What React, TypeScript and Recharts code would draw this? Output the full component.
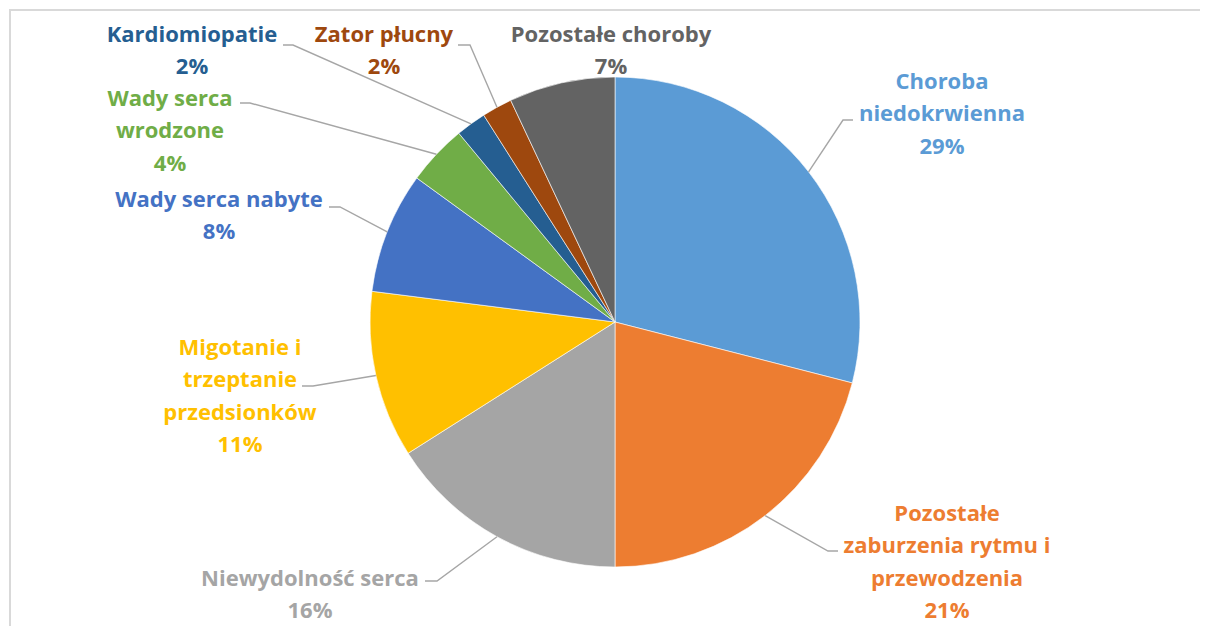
import { PieChart, Pie, Cell } from "recharts";

// dane z wykresu
const CATEGORIES = [
  "Choroba niedokrwienna",
  "Pozostałe zaburzenia rytmu i przewodzenia",
  "Niewydolność serca",
  "Migotanie i trzeptanie przedsionków",
  "Wady serca nabyte",
  "Wady serca wrodzone",
  "Kardiomiopatie",
  "Zator płucny",
  "Pozostałe choroby",
];
const VALUES = [29, 21, 16, 11, 8, 4, 2, 2, 7];
const COLORS = [
  "#5B9BD5", "#ED7D31", "#A5A5A5", "#FFC000", "#4472C4",
  "#70AD47", "#255E91", "#9E480E", "#636363",
];

// łamanie linii etykiet, jak w Excelu
const LABEL_LINES = [
  ["Choroba", "niedokrwienna"],
  ["Pozostałe", "zaburzenia rytmu i", "przewodzenia"],
  ["Niewydolność serca"],
  ["Migotanie i", "trzeptanie", "przedsionków"],
  ["Wady serca nabyte"],
  ["Wady serca", "wrodzone"],
  ["Kardiomiopatie"],
  ["Zator płucny"],
  ["Pozostałe choroby"],
];

// położenie etykiet (ręcznie ustawione w oryginale): środek 1. linii, kolanko i koniec linii odniesienia
const LABEL_LAYOUT = [
  { x: 934, y: 72, elbow: [835, 112], end: [845, 112] },
  { x: 939, y: 504, elbow: [820, 543], end: [830, 543] },
  { x: 302, y: 569, elbow: [429, 573], end: [417, 573] },
  { x: 232, y: 338, elbow: [305, 378], end: [294, 378] },
  { x: 211, y: 190, elbow: [332, 199], end: [321, 199] },
  { x: 162, y: 89, elbow: [242, 95], end: [232, 95] },
  { x: 184, y: 25, elbow: [285, 37], end: [275, 37] },
  { x: 376, y: 25, elbow: [462, 37], end: [450, 37] },
  { x: 603, y: 25, elbow: null, end: null },
];
const LINE_H = 32.3;

const data = CATEGORIES.map((name, i) => ({ name, value: VALUES[i] }));
const RAD = Math.PI / 180;

function renderLabel(props: any) {
  const { cx, cy, midAngle, outerRadius, index, percent } = props;
  const lay = LABEL_LAYOUT[index];
  const lines = [...LABEL_LINES[index], `${Math.round(percent * 100)}%`];
  const sx = cx + outerRadius * Math.cos(-midAngle * RAD);
  const sy = cy + outerRadius * Math.sin(-midAngle * RAD);
  return (
    <g key={`lbl-${index}`}>
      {lay.elbow && (
        <polyline
          points={`${sx},${sy} ${lay.elbow[0]},${lay.elbow[1]} ${lay.end![0]},${lay.end![1]}`}
          fill="none"
          stroke="#A6A6A6"
          strokeWidth={1.4}
        />
      )}
      <text
        x={lay.x}
        y={lay.y}
        textAnchor="middle"
        fill={COLORS[index]}
        style={{ fontFamily: "'Open Sans', Lato, sans-serif", fontWeight: 700, fontSize: 22 }}
      >
        {lines.map((t, k) => (
          <tspan key={k} x={lay.x} y={lay.y + k * LINE_H} dominantBaseline="central">
            {t}
          </tspan>
        ))}
      </text>
    </g>
  );
}

export default function App() {
  return (
    <div style={{ position: "relative", width: 1200, height: 618, overflow: "hidden" }}>
      <style>{`.recharts-pie-sectors { filter: drop-shadow(0 0 4px rgba(0,0,0,0.3)); }`}</style>
      <div
        style={{
          position: "absolute", left: 1, top: 1, width: 1300, height: 800,
          borderLeft: "2px solid #D9D9D9", borderTop: "2px solid #D9D9D9",
        }}
      />
      <div style={{ position: "absolute", left: 0, top: 0 }}>
        <PieChart width={1200} height={618} margin={{ top: 0, right: 0, bottom: 0, left: 0 }}>
          <Pie
            data={data}
            dataKey="value"
            nameKey="name"
            cx={607}
            cy={314}
            outerRadius={245}
            startAngle={90}
            endAngle={-270}
            stroke="#FFFFFF"
            strokeWidth={0.6}
            label={renderLabel}
            labelLine={false}
            isAnimationActive={false}
          >
            {data.map((d, i) => (
              <Cell key={d.name} fill={COLORS[i]} />
            ))}
          </Pie>
        </PieChart>
      </div>
    </div>
  );
}
